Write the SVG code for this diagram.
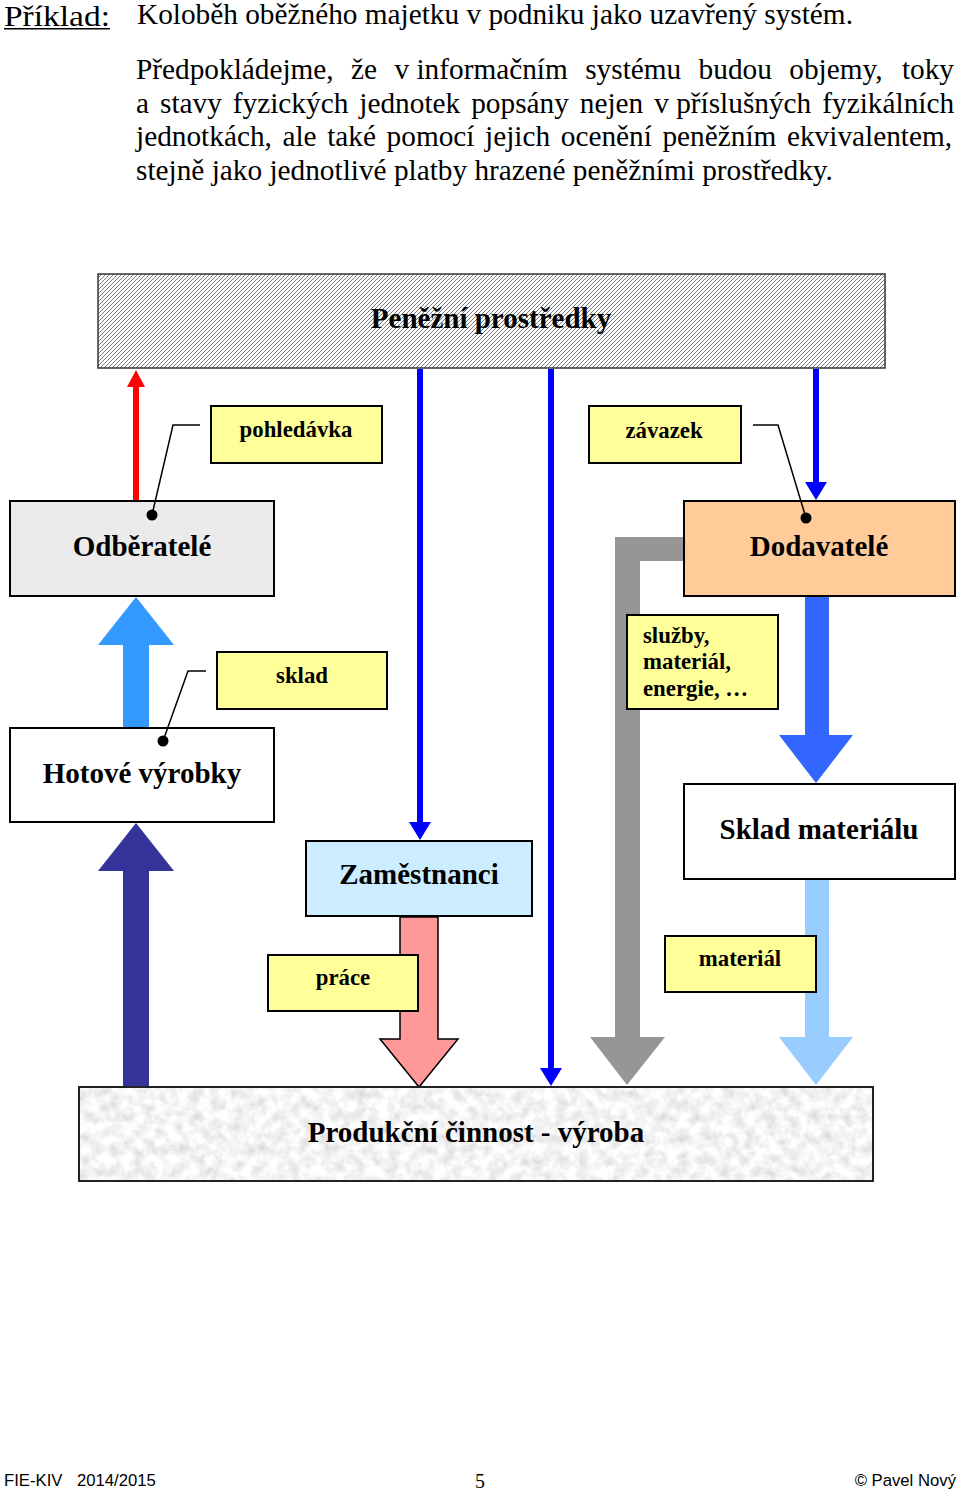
<svg xmlns="http://www.w3.org/2000/svg" width="960" height="1492" viewBox="0 0 960 1492">
<style>
.serif{font-family:"Liberation Serif","Times New Roman",serif;fill:#000}
.hdr{font-size:29.3px}
.big{font-family:"Liberation Serif","Times New Roman",serif;font-weight:bold;font-size:29px;text-anchor:middle;fill:#000}
.lbl{font-family:"Liberation Serif","Times New Roman",serif;font-weight:bold;font-size:22.8px;fill:#000}
.mid{text-anchor:middle}
.box{stroke:#000;stroke-width:2}
.yel{fill:#FFFF99;stroke:#000;stroke-width:2}
.lead{fill:none;stroke:#000;stroke-width:1.5}
.foot{font-family:"Liberation Sans",Arial,sans-serif;font-size:16.7px;fill:#000}
</style>
<defs>
<pattern id="hatch" width="4" height="4" patternUnits="userSpaceOnUse">
<rect width="4" height="4" fill="#fff"/>
<path d="M-1,1 L1,-1 M0,4 L4,0 M3,5 L5,3" stroke="#777" stroke-width="1"/>
</pattern>
<filter id="granite" x="0" y="0" width="1" height="1">
<feTurbulence type="fractalNoise" baseFrequency="0.09" numOctaves="4" seed="7" result="n"/>
<feColorMatrix in="n" type="matrix" values="0.55 0 0 0 0.63 0.55 0 0 0 0.63 0.55 0 0 0 0.63 0 0 0 0 1" result="g"/>
<feComposite in="g" in2="SourceGraphic" operator="in"/>
</filter>
<marker id="bhead" viewBox="0 0 18 22" refX="0" refY="11" markerWidth="18" markerHeight="22" markerUnits="userSpaceOnUse" orient="auto">
<path d="M0,0 L18,11 L0,22 z" fill="#0000FF"/>
</marker>
<marker id="rhead" viewBox="0 0 17 18" refX="0" refY="9" markerWidth="17" markerHeight="18" markerUnits="userSpaceOnUse" orient="auto">
<path d="M0,0 L17,9 L0,18 z" fill="#FF0000"/>
</marker>
</defs>

<rect width="960" height="1492" fill="#fff"/>

<!-- header text -->
<g id="header" class="serif">
<text x="4" y="25.5" font-size="28.5" textLength="106" lengthAdjust="spacingAndGlyphs" font-family="Liberation Serif, Times New Roman, serif">Příklad:</text>
<line x1="4" y1="28.8" x2="110" y2="28.8" stroke="#000" stroke-width="1.6"/>
<text x="137" y="24" class="serif hdr">Koloběh oběžného majetku v podniku jako uzavřený systém.</text>
<text y="79" class="serif hdr"><tspan x="136">Předpokládejme,</tspan><tspan x="351.1">že</tspan><tspan x="394.5">v informačním</tspan><tspan x="585.2">systému</tspan><tspan x="698.6">budou</tspan><tspan x="789.3">objemy,</tspan><tspan x="901.9">toky</tspan></text>
<text y="113" class="serif hdr"><tspan x="136">a</tspan><tspan x="160">stavy</tspan><tspan x="232.8">fyzických</tspan><tspan x="359.3">jednotek</tspan><tspan x="471.2">popsány</tspan><tspan x="579.8">nejen</tspan><tspan x="654.2">v příslušných</tspan><tspan x="822.3">fyzikálních</tspan></text>
<text x="136" y="146" class="serif hdr" word-spacing="3.28">jednotkách, ale také pomocí jejich ocenění peněžním ekvivalentem,</text>
<text x="136" y="180" class="serif hdr">stejně jako jednotlivé platby hrazené peněžními prostředky.</text>
</g>

<!-- connectors -->
<g id="connectors">
<line x1="136" y1="500" x2="136" y2="387" stroke="#FF0000" stroke-width="6" marker-end="url(#rhead)"/>
<line x1="420" y1="369" x2="420" y2="822" stroke="#0000FF" stroke-width="6" marker-end="url(#bhead)"/>
<line x1="551" y1="369" x2="551" y2="1068" stroke="#0000FF" stroke-width="6" marker-end="url(#bhead)"/>
<line x1="816" y1="369" x2="816" y2="482" stroke="#0000FF" stroke-width="6" marker-end="url(#bhead)"/>
<polygon points="123,728 123,645 98,645 136,597 174,645 149,645 149,728" fill="#3399FF"/>
<polygon points="123,1087 123,871 98,871 136,823 174,871 149,871 149,1087" fill="#333399"/>
<polygon points="400,917 438,917 438,1039 458,1039 419,1087 380,1039 400,1039" fill="#FF9999" stroke="#000" stroke-width="1.5"/>
<polygon points="684,537 615,537 615,1037 590,1037 627,1085 665,1037 640,1037 640,561 684,561" fill="#969696"/>
<polygon points="805,596 829,596 829,735 853,735 816,783 779,735 805,735" fill="#3366FF"/>
<polygon points="805,879 829,879 829,1037 853,1037 816,1085 779,1037 805,1037" fill="#99CCFF"/>
</g>

<g id="penezni">
<rect x="98" y="274" width="787" height="94" fill="url(#hatch)" stroke="#333" stroke-width="1.5"/>
<text x="491" y="328" class="big">Peněžní prostředky</text>
</g>

<g id="odberatele">
<rect x="10" y="501" width="264" height="95" fill="#EBEBEB" class="box"/>
<text x="142" y="556" class="big">Odběratelé</text>
</g>

<g id="dodavatele">
<rect x="684" y="501" width="271" height="95" fill="#FFCC99" class="box"/>
<text x="819" y="556" class="big">Dodavatelé</text>
</g>

<g id="hotove">
<rect x="10" y="728" width="264" height="94" fill="#fff" class="box"/>
<text x="142" y="783" class="big">Hotové výrobky</text>
</g>

<g id="sklad-materialu">
<rect x="684" y="784" width="271" height="95" fill="#fff" class="box"/>
<text x="819" y="839" class="big">Sklad materiálu</text>
</g>

<g id="zamestnanci">
<rect x="306" y="841" width="226" height="75" fill="#CCECFF" class="box"/>
<text x="419" y="884" class="big">Zaměstnanci</text>
</g>

<g id="produkce">
<rect x="79" y="1087" width="794" height="94" fill="#fff" filter="url(#granite)"/>
<rect x="79" y="1087" width="794" height="94" fill="none" stroke="#222" stroke-width="2"/>
<text x="476" y="1142" class="big">Produkční činnost - výroba</text>
</g>

<g id="pohledavka">
<rect x="211" y="406" width="171" height="57" class="yel"/>
<text x="296" y="437" class="lbl mid">pohledávka</text>
<polyline points="200,425 173,425 152,515" class="lead"/>
<circle cx="152" cy="515" r="5.5" fill="#000"/>
</g>

<g id="zavazek">
<rect x="589" y="406" width="152" height="57" class="yel"/>
<text x="664" y="438" class="lbl mid">závazek</text>
<polyline points="753,425 778,425 806,518" class="lead"/>
<circle cx="806" cy="518" r="5.5" fill="#000"/>
</g>

<g id="sklad">
<rect x="217" y="652" width="170" height="57" class="yel"/>
<text x="302" y="683" class="lbl mid">sklad</text>
<polyline points="206,671 188,671 163,741" class="lead"/>
<circle cx="163" cy="741" r="5.5" fill="#000"/>
</g>

<g id="sluzby">
<rect x="627" y="615" width="151" height="94" class="yel"/>
<text class="lbl"><tspan x="643" y="643">služby,</tspan><tspan x="643" y="669">materiál,</tspan><tspan x="643" y="696">energie, …</tspan></text>
</g>

<g id="prace">
<rect x="268" y="955" width="150" height="56" class="yel"/>
<text x="343" y="985" class="lbl mid">práce</text>
</g>

<g id="material">
<rect x="665" y="936" width="151" height="56" class="yel"/>
<text x="740" y="966" class="lbl mid">materiál</text>
</g>

<g id="footer">
<text x="4" y="1486" class="foot">FIE-KIV</text>
<text x="77" y="1486" class="foot">2014/2015</text>
<text x="480" y="1488" class="serif mid" font-size="20">5</text>
<text x="956" y="1486" class="foot" text-anchor="end">© Pavel Nový</text>
</g>
</svg>
